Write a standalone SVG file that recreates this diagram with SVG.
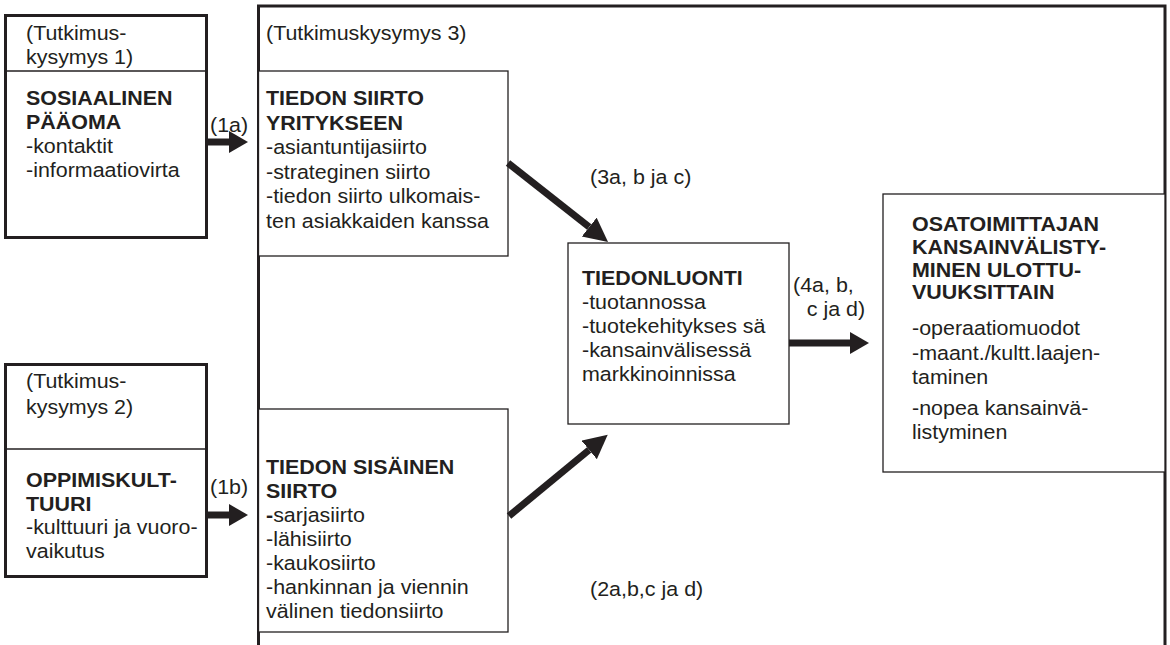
<svg xmlns="http://www.w3.org/2000/svg" width="1170" height="645" viewBox="0 0 1170 645">
  <style>
    .bg { fill: #ffffff; }
    .thick { fill: none; stroke: #231f20; stroke-width: 3; }
    .thin { fill: #ffffff; stroke: #231f20; stroke-width: 1.3; }
    .rule { stroke: #231f20; stroke-width: 1.3; }
    .shaft { stroke: #231f20; stroke-width: 7; fill: none; }
    text { font-family: "Liberation Sans", Arial, sans-serif; font-size: 19.5px; fill: #231f20; }
    .b { font-weight: bold; }
  </style>
  <defs>
    <marker id="head" markerUnits="userSpaceOnUse" markerWidth="22" markerHeight="24" refX="0" refY="11" orient="auto">
      <path d="M0,0 L19,11 L0,22 Z" fill="#231f20"/>
    </marker>
    <marker id="headDiag" markerUnits="userSpaceOnUse" markerWidth="26" markerHeight="26" refX="0" refY="12" orient="auto">
      <path d="M0,0 L24,12 L0,24 Z" fill="#231f20"/>
    </marker>
  </defs>

  <rect class="bg" x="0" y="0" width="1170" height="645"/>

  <!-- outer frame of research question 3, open at the bottom -->
  <g id="frame-rq3">
    <path class="thick" d="M258.5,645 V6 H1165 V645"/>
    <g transform="translate(266 0) scale(1.1 1)">
      <text y="40">(Tutkimuskysymys 3)</text>
    </g>
  </g>

  <!-- social capital -->
  <g id="node-sosiaalinen">
    <rect class="thick" x="5.5" y="15.5" width="201" height="222"/>
    <line class="rule" x1="5.5" y1="71" x2="206.5" y2="71"/>
    <g transform="translate(26 0) scale(1.1 1)">
      <text y="40">(Tutkimus-</text>
      <text y="64">kysymys 1)</text>
      <text class="b" y="105">SOSIAALINEN</text>
      <text class="b" y="129">PÄÄOMA</text>
      <text y="153">-kontaktit</text>
      <text y="177">-informaatiovirta</text>
    </g>
  </g>

  <!-- learning culture -->
  <g id="node-oppimiskulttuuri">
    <rect class="thick" x="5.5" y="364.5" width="201" height="212"/>
    <line class="rule" x1="5.5" y1="449" x2="206.5" y2="449"/>
    <g transform="translate(26 0) scale(1.1 1)">
      <text y="388">(Tutkimus-</text>
      <text y="414">kysymys 2)</text>
      <text class="b" y="487">OPPIMISKULT-</text>
      <text class="b" y="511">TUURI</text>
      <text y="534">-kulttuuri ja vuoro-</text>
      <text y="558">vaikutus</text>
    </g>
  </g>

  <!-- knowledge transfer into the firm -->
  <g id="node-tiedon-siirto">
    <rect class="thin" x="258.5" y="71" width="249.5" height="185"/>
    <g transform="translate(266 0) scale(1.1 1)">
      <text class="b" y="105">TIEDON SIIRTO</text>
      <text class="b" y="129.6">YRITYKSEEN</text>
      <text y="154.2">-asiantuntijasiirto</text>
      <text y="178.8">-strateginen siirto</text>
      <text y="203.4">-tiedon siirto ulkomais-</text>
      <text y="228">ten asiakkaiden kanssa</text>
    </g>
  </g>

  <!-- internal knowledge transfer -->
  <g id="node-sisainen-siirto">
    <rect class="thin" x="258.5" y="409" width="249.5" height="223"/>
    <g transform="translate(266 0) scale(1.1 1)">
      <text class="b" y="474">TIEDON SISÄINEN</text>
      <text class="b" y="498">SIIRTO</text>
      <text y="522"><tspan class="b">-</tspan>sarjasiirto</text>
      <text y="546">-lähisiirto</text>
      <text y="570">-kaukosiirto</text>
      <text y="594">-hankinnan ja viennin</text>
      <text y="618">välinen tiedonsiirto</text>
    </g>
  </g>

  <!-- knowledge creation -->
  <g id="node-tiedonluonti">
    <rect class="thin" x="568" y="243" width="221" height="181"/>
    <g transform="translate(582 0) scale(1.1 1)">
      <text class="b" y="285">TIEDONLUONTI</text>
      <text y="309">-tuotannossa</text>
      <text y="333">-tuotekehitykses sä</text>
      <text y="357">-kansainvälisessä</text>
      <text y="381">markkinoinnissa</text>
    </g>
  </g>

  <!-- supplier internationalisation -->
  <g id="node-osatoimittaja">
    <rect class="thin" x="883" y="194" width="282" height="278"/>
    <g transform="translate(912 0) scale(1.1 1)">
      <text class="b" y="231">OSATOIMITTAJAN</text>
      <text class="b" y="254">KANSAINVÄLISTY-</text>
      <text class="b" y="277">MINEN ULOTTU-</text>
      <text class="b" y="299">VUUKSITTAIN</text>
      <text y="335">-operaatiomuodot</text>
      <text y="360">-maant./kultt.laajen-</text>
      <text y="384">taminen</text>
      <text y="415">-nopea kansainvä-</text>
      <text y="439">listyminen</text>
    </g>
  </g>

  <!-- connectors -->
  <g id="connectors">
    <line class="shaft" x1="207" y1="142" x2="229" y2="142" marker-end="url(#head)"/>
    <line class="shaft" x1="207" y1="515" x2="229" y2="515" marker-end="url(#head)"/>
    <line class="shaft" x1="508" y1="163" x2="589.2" y2="227.1" marker-end="url(#headDiag)"/>
    <line class="shaft" x1="509" y1="516" x2="589.2" y2="449.9" marker-end="url(#headDiag)"/>
    <line class="shaft" x1="789" y1="343" x2="850" y2="343" marker-end="url(#head)"/>

    <g transform="translate(210 0) scale(1.1 1)"><text y="132">(1a)</text></g>
    <g transform="translate(210 0) scale(1.1 1)"><text y="494">(1b)</text></g>
    <g transform="translate(590 0) scale(1.1 1)"><text y="184">(3a, b ja c)</text></g>
    <g transform="translate(793 0) scale(1.1 1)">
      <text y="292">(4a, b,</text>
      <text x="12.5" y="316">c ja d)</text>
    </g>
    <g transform="translate(590 0) scale(1.1 1)"><text y="596">(2a,b,c ja d)</text></g>
  </g>
</svg>
